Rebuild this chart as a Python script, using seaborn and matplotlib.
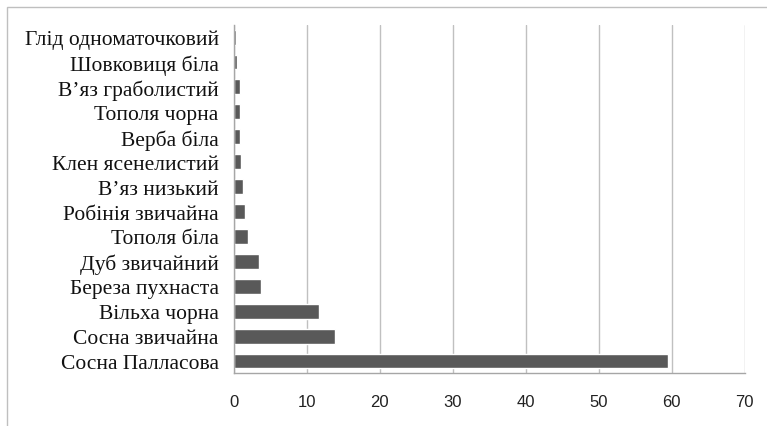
import pandas as pd
import matplotlib.pyplot as plt
import seaborn as sns
from matplotlib.patches import Rectangle

# species and their values
species = ['Глід одноматочковий', 'Шовковиця біла', 'В’яз граболистий', 'Тополя чорна',
           'Верба біла', 'Клен ясенелистий', 'В’яз низький', 'Робінія звичайна',
           'Тополя біла', 'Дуб звичайний', 'Береза пухнаста', 'Вільха чорна',
           'Сосна звичайна', 'Сосна Палласова']
values = [0.35, 0.45, 0.8, 0.8, 0.8, 1.0, 1.3, 1.5, 1.9, 3.4, 3.7, 11.7, 13.9, 59.5]
xticks = [0, 10, 20, 30, 40, 50, 60, 70]

df = pd.DataFrame({'species': species, 'value': values})

sns.set_style('white')
fig = plt.figure(figsize=(7.67, 4.27), dpi=100)
ax = fig.add_axes([0.305, 0.123, 0.666, 0.817])

sns.barplot(data=df, x='value', y='species', orient='h', color='#595959',
            saturation=1, width=0.6, ax=ax)

ax.set_xlim(0, 70)
ax.set_ylim(13.5, -0.5)
ax.set_xticks(xticks)
ax.xaxis.grid(True, color='#c0c0c0', linewidth=1)
ax.set_axisbelow(True)
for s in ['top', 'right']:
    ax.spines[s].set_visible(False)
for s in ['left', 'bottom']:
    ax.spines[s].set_color('#a6a6a6')
    ax.spines[s].set_linewidth(1)
ax.set_xlabel('')
ax.set_ylabel('')
ax.tick_params(axis='x', length=0, pad=15, labelsize=12, labelcolor='#222222')
ax.tick_params(axis='y', length=0, pad=11, labelsize=15.5, labelcolor='#111111')
for t in ax.get_xticklabels():
    t.set_family(['Liberation Sans Narrow', 'Liberation Sans', 'DejaVu Sans'])
for t in ax.get_yticklabels():
    t.set_family(['Liberation Serif', 'DejaVu Serif'])

# outer chart frame, partly cut off like in the reference
fig.patches.append(Rectangle((7 / 767, -0.1), 1.2, 1 - 8 / 427 + 0.1,
                             transform=fig.transFigure, fill=False,
                             edgecolor='#bfbfbf', linewidth=1))

plt.savefig('out.png', dpi=100)
